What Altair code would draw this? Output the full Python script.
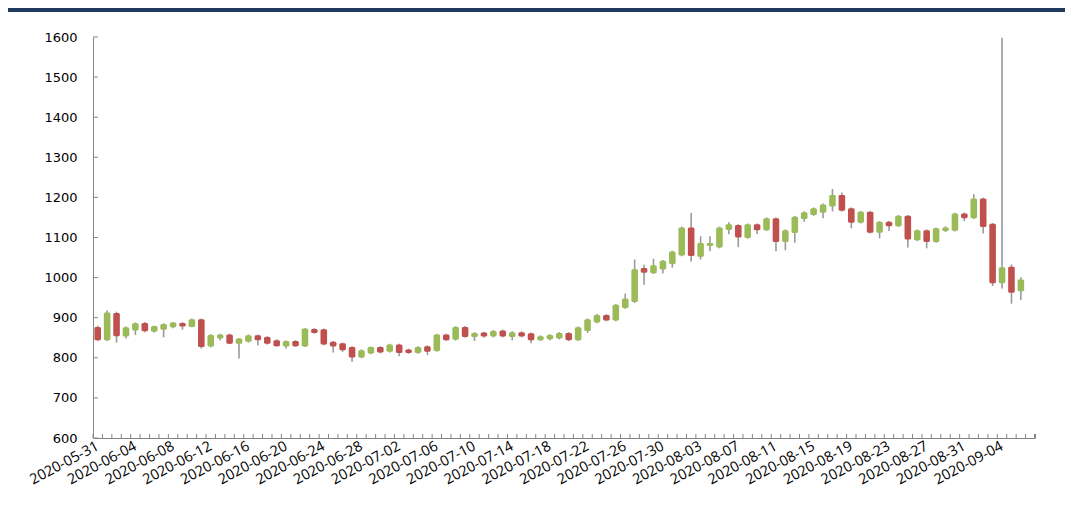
import altair as alt
import pandas as pd

# ---- data ----
all_dates = [d.strftime("%Y-%m-%d") for d in pd.date_range("2020-05-31", "2020-09-07", freq="D")]
label_dates = all_dates[0:97:4]

opens = [877, 844, 912, 853, 868, 887, 865, 870, 876, 887,
         877, 896, 828, 848, 858, 835, 840, 856, 852, 844,
         828, 842, 828, 872, 871, 840, 836, 827, 801, 811,
         827, 815, 833, 821, 812, 829, 817, 858, 845, 877,
         852, 863, 853, 868, 852, 864, 861, 844, 846, 848,
         862, 844, 867, 888, 907, 893, 924, 939, 1024, 1011,
         1020, 1034, 1055, 1125, 1052, 1079, 1075, 1119, 1131, 1099,
         1133, 1118, 1148, 1089, 1111, 1146, 1156, 1162, 1177, 1206,
         1173, 1137, 1164, 1112, 1139, 1128, 1154, 1093, 1118, 1089,
         1116, 1117, 1160, 1148, 1197, 1134, 986, 1027, 966]
highs = [880, 918, 915, 878, 888, 889, 880, 886, 889, 889,
         898, 898, 859, 860, 860, 849, 858, 858, 854, 846,
         843, 844, 874, 874, 873, 842, 838, 829, 821, 828,
         829, 835, 835, 823, 829, 831, 860, 860, 879, 879,
         864, 865, 869, 870, 866, 866, 863, 856, 859, 864,
         864, 878, 898, 909, 909, 934, 960, 1045, 1032, 1047,
         1044, 1067, 1127, 1161, 1103, 1103, 1127, 1138, 1133, 1135,
         1135, 1150, 1150, 1120, 1154, 1165, 1175, 1185, 1221, 1212,
         1175, 1166, 1166, 1141, 1141, 1156, 1156, 1120, 1120, 1125,
         1128, 1162, 1162, 1208, 1199, 1136, 1598, 1033, 1001]
lows = [842, 842, 838, 848, 857, 864, 863, 851, 874, 870,
        876, 823, 826, 843, 834, 798, 838, 831, 833, 828,
        823, 827, 827, 860, 831, 813, 815, 790, 799, 809,
        811, 813, 804, 810, 810, 807, 815, 842, 843, 850,
        842, 850, 851, 851, 844, 851, 836, 842, 844, 846,
        842, 842, 862, 886, 891, 891, 922, 937, 982, 1009,
        1010, 1025, 1053, 1040, 1045, 1066, 1073, 1108, 1076, 1097,
        1109, 1116, 1066, 1068, 1087, 1139, 1154, 1148, 1165, 1165,
        1123, 1135, 1110, 1098, 1116, 1126, 1075, 1091, 1073, 1087,
        1114, 1115, 1141, 1146, 1110, 979, 973, 935, 944]
closes = [844, 913, 854, 876, 886, 866, 879, 884, 888, 878,
          896, 827, 857, 858, 835, 848, 856, 844, 835, 829,
          842, 829, 873, 862, 833, 828, 819, 801, 819, 827,
          813, 833, 812, 812, 827, 815, 858, 844, 877, 852,
          862, 853, 867, 853, 864, 853, 844, 854, 857, 862,
          844, 876, 896, 907, 893, 932, 948, 1021, 1012, 1031,
          1042, 1065, 1125, 1054, 1086, 1086, 1125, 1133, 1100, 1133,
          1118, 1148, 1089, 1118, 1152, 1163, 1173, 1182, 1206, 1167,
          1137, 1164, 1112, 1139, 1128, 1154, 1095, 1118, 1089, 1123,
          1125, 1160, 1148, 1197, 1126, 986, 1026, 962, 995]
y_ticks = [600, 700, 800, 900, 1000, 1100, 1200, 1300, 1400, 1500, 1600]

df = pd.DataFrame({
    "date": all_dates[:len(opens)],
    "open": opens, "high": highs, "low": lows, "close": closes,
})
df["dir"] = ["up" if c >= o else "down" for o, c in zip(opens, closes)]
dates_df = pd.DataFrame({"date": all_dates})
yt_df = pd.DataFrame({"v": y_ticks})

W, H = 942, 401
STEP = W / len(all_dates)
GREEN, RED = "#9BBB59", "#C0504D"
AXIS_GREY = "#868686"

xscale = alt.Scale(domain=all_dates, paddingInner=0.3, paddingOuter=0.15)
yscale = alt.Scale(domain=[600, 1600], nice=False, zero=False)

xaxis = alt.Axis(values=label_dates, labelAngle=-28, labelAlign="right", labelBaseline="top",
                 labelPadding=1, labelOffset=-3, ticks=False, domainColor=AXIS_GREY, domainWidth=1,
                 labelFont="Open Sans", labelFontSize=14.5, labelColor="#000000",
                 title=None, grid=False, labelOverlap=False)
yaxis = alt.Axis(values=y_ticks, format="d", ticks=False, labelPadding=16, domainColor=AXIS_GREY,
                 domainWidth=1, labelFont="DejaVu Sans", labelFontSize=13, labelColor="#000000",
                 title=None, grid=False)

X = alt.X("date:O", scale=xscale, axis=xaxis)

wicks = alt.Chart(df).mark_rule(color="#9a9a9a", strokeWidth=1.6).encode(
    x=X,
    y=alt.Y("low:Q", scale=yscale, axis=yaxis),
    y2="high:Q",
)
bodies = alt.Chart(df).mark_bar(cornerRadius=1.5).encode(
    x=X,
    y=alt.Y("open:Q", scale=yscale, axis=yaxis),
    y2="close:Q",
    color=alt.Color("dir:N", scale=alt.Scale(domain=["up", "down"], range=[GREEN, RED]), legend=None),
)
xticks = alt.Chart(dates_df).mark_rule(color=AXIS_GREY, strokeWidth=1, xOffset=-STEP / 2).encode(
    x=X, y=alt.value(H - 4), y2=alt.value(H),
)
xtick_end = alt.Chart(dates_df).mark_rule(color=AXIS_GREY, strokeWidth=1).encode(
    x=alt.value(W), y=alt.value(H - 4), y2=alt.value(H),
)
yticks = alt.Chart(yt_df).mark_rule(color=AXIS_GREY, strokeWidth=1).encode(
    y=alt.Y("v:Q", scale=yscale, axis=yaxis), x=alt.value(0), x2=alt.value(5),
)
topline = alt.Chart(yt_df).mark_rule(color="#1F3A5F", strokeWidth=3).encode(
    x=alt.value(-85), x2=alt.value(W + 30), y=alt.value(-27),
)

chart = alt.layer(topline, xticks, xtick_end, yticks, wicks, bodies).properties(
    width=W, height=H,
    autosize=alt.AutoSizeParams(type="none"),
    padding={"left": 85, "top": 29, "right": 30, "bottom": 89},
    background="white",
).configure_view(strokeWidth=0)

chart.save("out.html", embed_options={"renderer": "svg", "actions": False})
